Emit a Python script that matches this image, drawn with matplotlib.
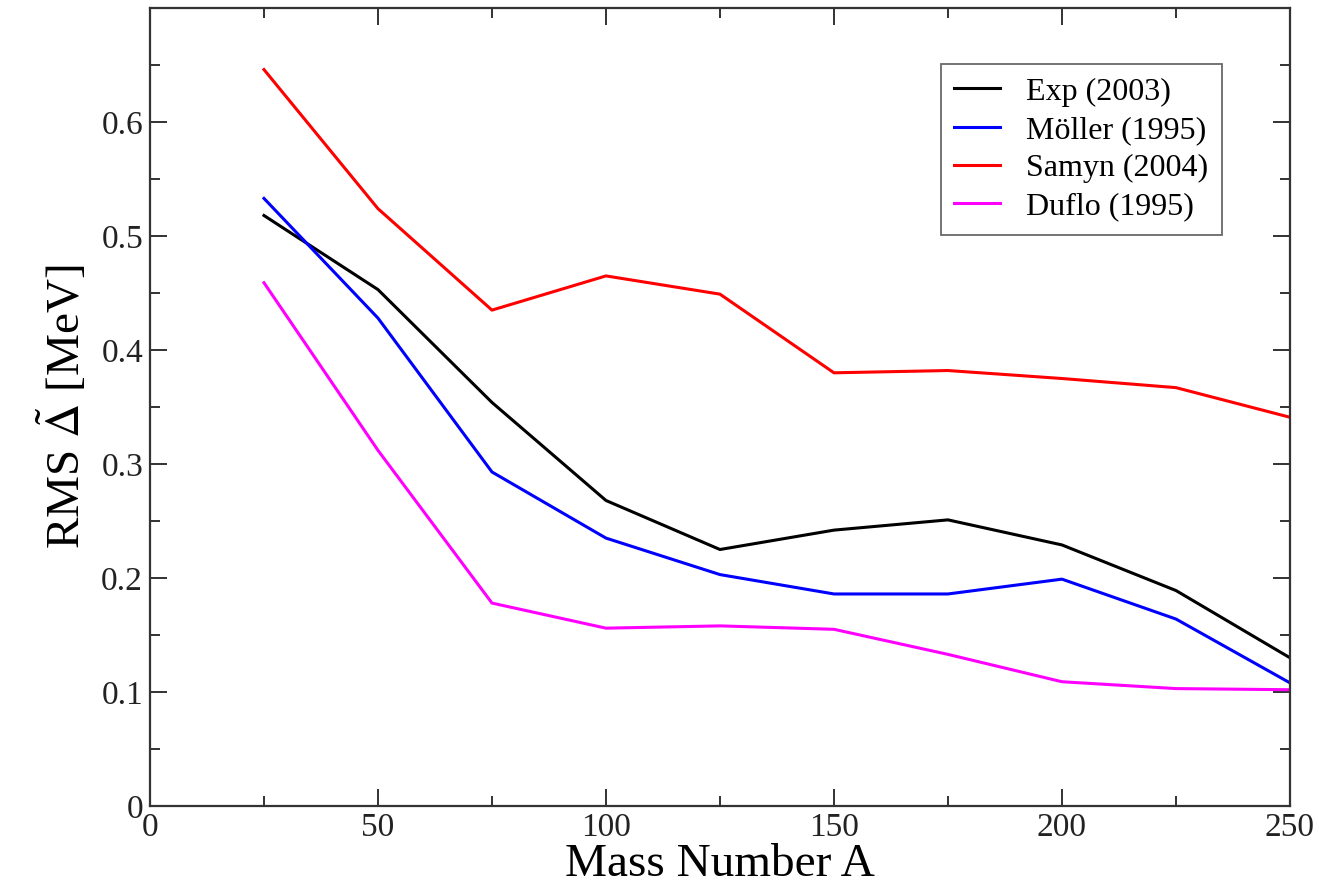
import matplotlib
matplotlib.use("Agg")
import matplotlib.pyplot as plt
from matplotlib.ticker import MultipleLocator

plt.rcParams["font.family"] = ["Liberation Serif", "DejaVu Serif"]
plt.rcParams["mathtext.fontset"] = "stix"

mass_number = [25, 50, 75, 100, 125, 150, 175, 200, 225, 250]
exp_2003 = [0.518, 0.453, 0.354, 0.268, 0.225, 0.242, 0.251, 0.229, 0.189, 0.130]
moller_1995 = [0.533, 0.428, 0.293, 0.235, 0.203, 0.186, 0.186, 0.199, 0.164, 0.108]
samyn_2004 = [0.646, 0.524, 0.435, 0.465, 0.449, 0.380, 0.382, 0.375, 0.367, 0.341]
duflo_1995 = [0.459, 0.312, 0.178, 0.156, 0.158, 0.155, 0.133, 0.109, 0.103, 0.102]

series = [
    ("Exp (2003)", exp_2003, "black"),
    ("Möller (1995)", moller_1995, "blue"),
    ("Samyn (2004)", samyn_2004, "red"),
    ("Duflo (1995)", duflo_1995, "magenta"),
]

fig = plt.figure(figsize=(13.19, 8.91), dpi=100)
ax = fig.add_axes([0.1137, 0.0954, 0.8643, 0.8956])

for label, values, color in series:
    ax.plot(mass_number, values, color=color, lw=2.2, label=label)

ax.set_xlim(0, 250)
ax.set_ylim(0, 0.7)
ax.xaxis.set_major_locator(MultipleLocator(50))
ax.xaxis.set_minor_locator(MultipleLocator(25))
ax.yaxis.set_major_locator(MultipleLocator(0.1))
ax.yaxis.set_minor_locator(MultipleLocator(0.05))
ax.set_yticks([0, 0.1, 0.2, 0.3, 0.4, 0.5, 0.6])
ax.set_yticklabels(["0", "0.1", "0.2", "0.3", "0.4", "0.5", "0.6"])
ax.tick_params(which="both", direction="in", top=True, right=True,
               width=1.3, labelsize=24, colors="#222222")
ax.tick_params(which="major", length=12, pad=5)
ax.tick_params(which="minor", length=7)
for spine in ax.spines.values():
    spine.set_linewidth(1.6)
    spine.set_color("#333333")

ax.set_xlabel("Mass Number A", fontsize=34, labelpad=0)
ax.set_ylabel(r"RMS $\tilde{\Delta}$ [MeV]", fontsize=34, labelpad=8)

leg = ax.legend(loc="upper right", bbox_to_anchor=(0.940, 0.930), fontsize=23,
                frameon=True, fancybox=False, edgecolor="#444444",
                handlelength=1.45, handletextpad=0.8, labelspacing=0.28,
                borderpad=0.42, borderaxespad=0)
leg.get_frame().set_linewidth(1.3)

fig.savefig("out.png", dpi=100)
